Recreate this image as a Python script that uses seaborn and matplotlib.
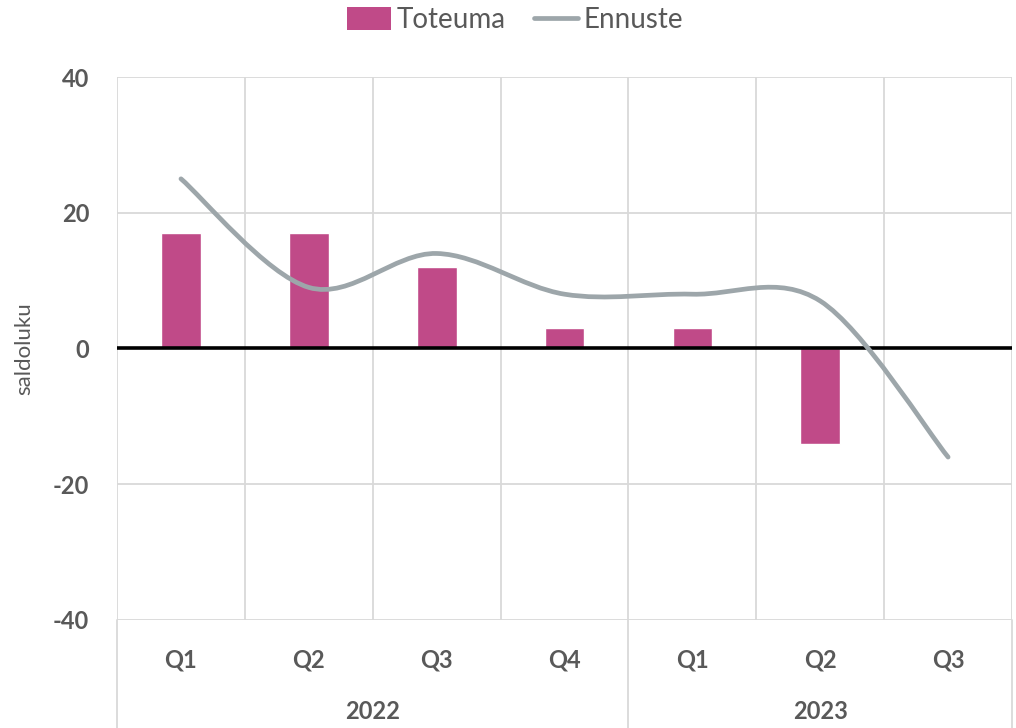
import numpy as np
import pandas as pd
import matplotlib
matplotlib.use("Agg")
import matplotlib.pyplot as plt
from matplotlib.path import Path
from matplotlib.patches import PathPatch, Patch
from matplotlib.lines import Line2D
import seaborn as sns

quarters = ["Q1", "Q2", "Q3", "Q4", "Q1", "Q2", "Q3"]
years = ["2022", "2022", "2022", "2022", "2023", "2023", "2023"]
toteuma = [17, 17, 12, 3, 3, -14, np.nan]
ennuste = [25, 9, 14, 8, 8, 7, -16]

bar_color = "#C04A88"
line_color = "#9DA6AA"
grid_color = "#D9D9D9"
text_color = "#595959"

sns.set_theme(style="white")
plt.rcParams["font.family"] = ["Lato", "DejaVu Sans"]

df = pd.DataFrame({
    "key": [f"{y} {q}" for y, q in zip(years, quarters)],
    "Toteuma": toteuma,
})

fig = plt.figure(figsize=(10.16, 7.28), dpi=100)
ax = fig.add_axes([0.1152, 0.1484, 0.9961 - 0.1152, 0.8942 - 0.1484])

sns.barplot(data=df, x="key", y="Toteuma", color=bar_color, width=0.31,
            saturation=1, ax=ax, zorder=2)

# smooth line (Catmull-Rom as cubic Bezier, like Excel's smoothed line)
xs = np.arange(len(ennuste), dtype=float)
pts = np.column_stack([xs, np.array(ennuste, dtype=float)])
ext = np.vstack([pts[0], pts, pts[-1]])
verts = [tuple(pts[0])]
codes = [Path.MOVETO]
for i in range(len(pts) - 1):
    p0, p1, p2, p3 = ext[i], ext[i + 1], ext[i + 2], ext[i + 3]
    c1 = p1 + (p2 - p0) / 6
    c2 = p2 - (p3 - p1) / 6
    verts += [tuple(c1), tuple(c2), tuple(p2)]
    codes += [Path.CURVE4] * 3
ax.add_patch(PathPatch(Path(verts, codes), facecolor="none", edgecolor=line_color,
                       lw=3.4, capstyle="round", zorder=4))

ax.set_xlim(-0.5, 6.5)
ax.set_ylim(-40, 40)
ax.set_yticks([-40, -20, 0, 20, 40])
ax.set_yticklabels(["-40", "-20", "0", "20", "40"])
ax.tick_params(axis="y", length=0, pad=20, labelsize=17, labelcolor=text_color)
for lab in ax.get_yticklabels():
    lab.set_fontweight("bold")
ax.set_xticks([])
ax.set_xlabel("")
ax.set_ylabel("saldoluku", fontsize=16, color=text_color)
ax.yaxis.set_label_coords(-0.092, 0.5)
for s in ax.spines.values():
    s.set_visible(False)

for y in [-40, -20, 20, 40]:
    ax.axhline(y, color=grid_color, lw=1.3, zorder=0)
ax.axhline(0, color="black", lw=2.6, zorder=3)
for xv in np.arange(-0.5, 7, 1.0):
    ax.axvline(xv, color=grid_color, lw=1.3, zorder=0)

trans = ax.get_xaxis_transform()
for xv in [-0.5, 3.5, 6.5]:
    ax.plot([xv, xv], [0, -0.2], color=grid_color, lw=1.3, transform=trans, clip_on=False)
for i, q in enumerate(quarters):
    ax.text(i, -0.074, q, transform=trans, ha="center", va="center",
            fontsize=17, fontweight="bold", color=text_color)
for label, pos in [("2022", 1.5), ("2023", 5.0)]:
    ax.text(pos, -0.169, label, transform=trans, ha="center", va="center",
            fontsize=17, fontweight="bold", color=text_color)

handles = [Patch(facecolor=bar_color, edgecolor="none"),
           Line2D([0], [0], color=line_color, lw=3.4)]
fig.legend(handles, ["Toteuma", "Ennuste"], loc="center", bbox_to_anchor=(0.507, 0.972),
           ncol=2, frameon=False, fontsize=20, labelcolor=text_color,
           handlelength=1.6, handleheight=0.9, handletextpad=0.2, columnspacing=1.0)

fig.savefig("out.png", dpi=100)
